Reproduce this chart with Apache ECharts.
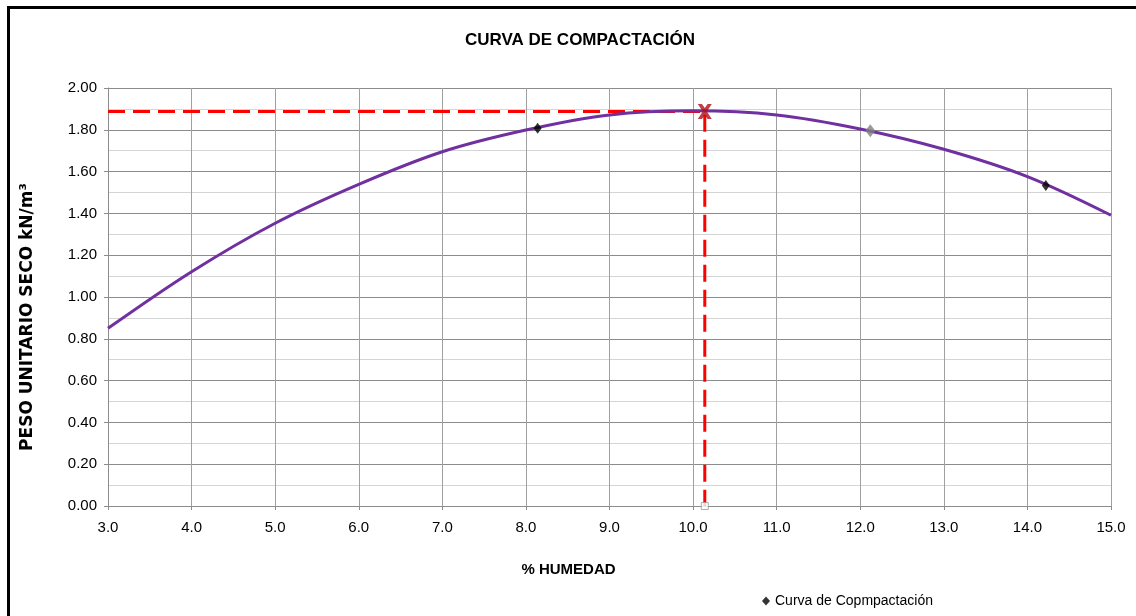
<!DOCTYPE html>
<html>
<head>
<meta charset="utf-8">
<script src="https://cdn.jsdelivr.net/npm/echarts@6/dist/echarts.min.js"></script>
<style>
html,body{margin:0;padding:0;background:#fff;}
#chart{width:1136px;height:616px;}
</style>
</head>
<body>
<div id="chart"></div>
<script>
// Trend curve
const curveX = [3, 4, 5, 6, 7, 8, 9, 10, 11, 12, 13, 14, 15];
const curveY = [0.850, 1.121, 1.353, 1.539, 1.695, 1.799, 1.871, 1.891, 1.871, 1.804, 1.707, 1.576, 1.391];
// Measured points
const pointX = [8.14, 12.12, 14.22];
const pointY = [1.807, 1.796, 1.533];
// Optimum (max density)
const optX = 10.14;
const optY = 1.887;
// Axes
const xMin = 3, xMax = 15, xStep = 1;
const yMin = 0, yMax = 2, yStep = 0.2;
const titleText = 'CURVA DE COMPACTACIÓN';
const xName = '% HUMEDAD';
const yName = 'PESO UNITARIO SECO kN/m³';
const legendName = 'Curva de Copmpactación';

const chart = echarts.init(document.getElementById('chart'), null, {renderer: 'canvas'});
const sans = '"Liberation Sans", Arial, sans-serif';

const curveData = curveX.map((x, i) => [x, curveY[i]]);
const pointColors = ['#000000', '#808080', '#000000'];
const pointSizes = [[8, 11], [10, 13], [8, 11]];
const pointData = pointX.map((x, i) => ({value: [x, pointY[i]], symbolSize: pointSizes[i], itemStyle: {color: pointColors[i]}}));
const guideData = [[xMin, optY], [optX, optY], [optX, yMin]];

chart.setOption({
  animation: false,
  backgroundColor: '#ffffff',
  graphic: [{
    type: 'rect',
    shape: {x: 8.5, y: 7.5, width: 1300, height: 800},
    style: {fill: 'none', stroke: '#000', lineWidth: 3},
    silent: true, z: 100
  }],
  title: {
    text: titleText,
    left: 575, top: 27, textAlign: 'center',
    textStyle: {fontFamily: sans, fontWeight: 'bold', fontSize: 17, color: '#000'}
  },
  legend: {
    data: [{name: legendName, icon: 'diamond'}],
    left: 757, top: 589,
    itemWidth: 8, itemHeight: 9, itemGap: 4,
    textStyle: {fontFamily: sans, fontSize: 14, color: '#000'}
  },
  grid: {left: 108, right: 25, top: 88, bottom: 110, containLabel: false},
  xAxis: {
    type: 'value', min: xMin, max: xMax, interval: xStep,
    name: xName, nameLocation: 'middle', nameGap: 56,
    nameTextStyle: {fontFamily: sans, fontWeight: 'bold', fontSize: 15, color: '#000', padding: [0, 82, 0, 0]},
    axisLine: {show: true, lineStyle: {color: '#8c8c8c', width: 1}},
    axisTick: {show: true, length: 4, inside: false, lineStyle: {color: '#8c8c8c'}},
    axisLabel: {formatter: v => v.toFixed(1), fontFamily: sans, fontSize: 15, color: '#000', margin: 14},
    splitLine: {show: true, lineStyle: {color: '#a0a0a0', width: 1}}
  },
  yAxis: {
    type: 'value', min: yMin, max: yMax, interval: yStep,
    name: yName, nameLocation: 'middle', nameGap: 72, nameRotate: 90,
    nameTextStyle: {fontFamily: '"DejaVu Sans", sans-serif', fontWeight: 'bold', fontSize: 17, color: '#000', padding: [0, 40, 0, 0]},
    axisLine: {show: true, lineStyle: {color: '#8c8c8c', width: 1}},
    axisTick: {show: true, length: 4, inside: false, lineStyle: {color: '#8c8c8c'}},
    axisLabel: {formatter: v => v.toFixed(2), fontFamily: sans, fontSize: 15, color: '#000', margin: 11},
    splitLine: {show: true, lineStyle: {color: '#8c8c8c', width: 1}},
    minorTick: {show: false, splitNumber: 2},
    minorSplitLine: {show: true, lineStyle: {color: '#d4d4d4', width: 1}}
  },
  series: [
    {
      name: 'curve', type: 'line', data: curveData, smooth: 0.35,
      showSymbol: false, symbol: 'none',
      lineStyle: {color: '#7030a0', width: 3}, z: 3
    },
    {
      name: 'guide', type: 'line', data: guideData, smooth: false,
      showSymbol: false, symbol: 'none',
      lineStyle: {color: '#ff0000', width: 3, type: [17, 8]}, z: 2
    },
    {
      name: legendName, type: 'scatter', data: pointData,
      symbol: 'diamond',
      itemStyle: {color: '#000'}, z: 5
    },
    {
      name: 'max', type: 'scatter', data: [[optX, optY]],
      symbol: 'path://M0,0 L3,0 L5,2.6 L7,0 L10,0 L6.5,5 L10,10 L7,10 L5,7.4 L3,10 L0,10 L3.5,5 Z',
      symbolSize: [14, 15],
      itemStyle: {color: '#b01018'}, z: 6
    },
    {
      name: 'base', type: 'scatter', data: [[optX, yMin]],
      symbol: 'rect', symbolSize: 7,
      itemStyle: {color: '#ffffff', borderColor: '#9a9a9a', borderWidth: 1}, z: 6
    }
  ]
});
</script>
</body>
</html>
